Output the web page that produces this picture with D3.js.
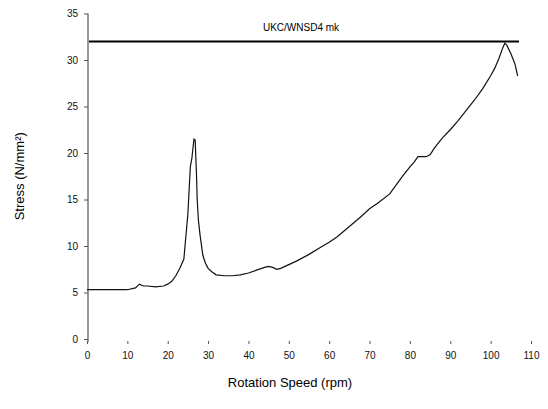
<!DOCTYPE html>
<html>
<head>
<meta charset="utf-8">
<script src="https://cdn.jsdelivr.net/npm/d3@7"></script>
<style>
  body { margin: 0; background: #fff; }
  svg { display: block; font-family: "Liberation Sans", Arial, sans-serif; }
</style>
</head>
<body>
<div id="chart"></div>
<script>
// values
const rpm = [0, 2, 5, 8, 10, 12, 13, 14, 15, 17, 19, 20, 21, 22, 23, 24, 25, 25.3, 25.6, 26, 26.5, 26.8, 27.1, 27.3, 27.6, 28, 28.7, 29.3, 30, 31, 32, 34, 36, 38, 40, 42, 44, 45, 46, 47, 48, 50, 52, 55, 58, 60, 62, 65, 68, 70, 72, 75, 78, 80, 81, 82, 83, 84, 85, 86, 88, 90, 92, 94, 96, 98, 100, 101, 102, 103, 103.5, 104, 105, 106, 106.7];
const stress = [5.3, 5.3, 5.3, 5.3, 5.3, 5.5, 5.9, 5.7, 5.7, 5.6, 5.7, 5.9, 6.2, 6.8, 7.6, 8.6, 13.5, 16, 18.5, 19.5, 21.5, 21.4, 18, 15, 12.8, 11.2, 9, 8.2, 7.6, 7.2, 6.9, 6.8, 6.8, 6.9, 7.1, 7.4, 7.7, 7.8, 7.7, 7.5, 7.6, 8.0, 8.4, 9.1, 9.9, 10.4, 11.0, 12.1, 13.2, 14.0, 14.6, 15.6, 17.4, 18.5, 19.0, 19.6, 19.6, 19.6, 19.8, 20.5, 21.6, 22.5, 23.5, 24.6, 25.7, 26.9, 28.3, 29.1, 30.1, 31.3, 31.8, 31.6, 30.7, 29.6, 28.3];
const xTicks = [0, 10, 20, 30, 40, 50, 60, 70, 80, 90, 100, 110];
const yTicks = [0, 5, 10, 15, 20, 25, 30, 35];
const limitValue = 32;
const limitLabel = "UKC/WNSD4 mk";

const width = 548, height = 409;
const x = d3.scaleLinear().domain([0, 110]).range([87, 531]);
const y = d3.scaleLinear().domain([0, 35]).range([339, 13.5]);

const svg = d3.select("#chart").append("svg")
    .attr("width", width)
    .attr("height", height);

// y axis
const yAxis = svg.append("g")
    .attr("transform", "translate(88,0)")
    .call(d3.axisLeft(y).tickValues(yTicks).tickSize(4).tickPadding(6));
yAxis.select(".domain").attr("d", "M0," + y(35) + "V" + (y(0) + 3)).attr("stroke", "#333");
yAxis.selectAll(".tick line").attr("stroke", "#555");
yAxis.selectAll("text").style("font-size", "10px").attr("fill", "#111");

// x axis (ticks only)
const xAxis = svg.append("g")
    .attr("transform", "translate(0," + (y(0) + 2) + ")")
    .call(d3.axisBottom(x).tickValues(xTicks).tickSize(3).tickPadding(8));
xAxis.select(".domain").remove();
xAxis.selectAll(".tick line").attr("stroke", "#555");
xAxis.selectAll("text").style("font-size", "10px").attr("fill", "#111");

// limit line
svg.append("line")
    .attr("x1", x(0) + 2)
    .attr("x2", 519)
    .attr("y1", y(limitValue))
    .attr("y2", y(limitValue))
    .attr("stroke", "#000")
    .attr("stroke-width", 2);

svg.append("text")
    .attr("x", 301)
    .attr("y", y(limitValue) - 10)
    .attr("text-anchor", "middle")
    .style("font-size", "10px")
    .text(limitLabel);

// stress curve
const pts = rpm.map((r, i) => [r, stress[i]]);
svg.append("path")
    .datum(pts)
    .attr("fill", "none")
    .attr("stroke", "#111")
    .attr("stroke-width", 1.2)
    .attr("d", d3.line().x(d => x(d[0])).y(d => y(d[1])));

// axis titles
svg.append("text")
    .attr("x", 290)
    .attr("y", 387)
    .attr("text-anchor", "middle")
    .style("font-size", "13px")
    .text("Rotation Speed (rpm)");

svg.append("text")
    .attr("transform", "translate(24," + y(17.5) + ") rotate(-90)")
    .attr("text-anchor", "middle")
    .style("font-size", "13px")
    .text("Stress (N/mm²)");
</script>
</body>
</html>
